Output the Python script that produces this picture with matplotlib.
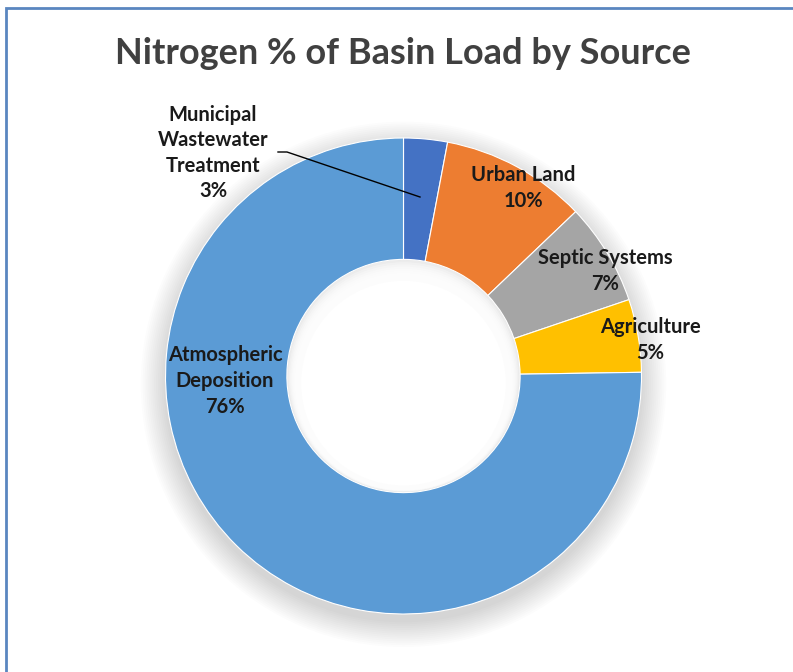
import numpy as np
import matplotlib
matplotlib.use("Agg")
import matplotlib.pyplot as plt
from matplotlib.patches import Circle, Rectangle

sources = ["Municipal\nWastewater\nTreatment", "Urban Land", "Septic Systems",
           "Agriculture", "Atmospheric\nDeposition"]
shares = [3, 10, 7, 5, 76]
colors = ["#4472C4", "#ED7D31", "#A5A5A5", "#FFC000", "#5B9BD5"]

W, H = 793, 672
fig = plt.figure(figsize=(W / 100, H / 100), dpi=100)
fig.patch.set_facecolor("white")

# pie centre and radius in pixels (from top-left)
cx, cy, r = 403.5, 376, 238
ax = fig.add_axes([(cx - r) / W, (H - cy - r) / H, 2 * r / W, 2 * r / H])

def px(x, y):
    return (x - cx) / r, (cy - y) / r

hole = 0.49

# soft shadow
for i in range(14):
    ax.add_patch(Circle((0, -0.035), 1.0 + 0.008 * i, color="black",
                        alpha=0.011, lw=0, zorder=0, clip_on=False))
# hole with a faint inner shading at its rim
ax.add_patch(Circle((0, 0), hole, color="#e4e4e4", lw=0, zorder=0.5))
for i in range(10):
    ax.add_patch(Circle((0, -0.004 * i), hole - 0.005 * i - 0.003, color="white",
                        alpha=0.3, lw=0, zorder=0.6))
ax.add_patch(Circle((0, -0.03), hole - 0.06, color="white", lw=0, zorder=0.7))

wedges, _ = ax.pie(shares, colors=colors, startangle=90, counterclock=False,
                   radius=1, wedgeprops=dict(width=1 - hole, edgecolor="white", linewidth=0.8))
ax.set_xlim(-1, 1)
ax.set_ylim(-1, 1)
ax.axis("off")

font = "Lato"
label_pos = [(213, 153), (523, 188), (605, 271), (650, 340), (225, 381)]
for name, val, (x, y) in zip(sources, shares, label_pos):
    tx, ty = px(x, y)
    ax.text(tx, ty, f"{name}\n{val}%", ha="center", va="center", fontsize=14.5,
            fontweight="bold", family=font, color="#1a1a1a", linespacing=1.35,
            clip_on=False, zorder=5)

# leader line for municipal
lx = [px(278, 152)[0], px(287, 152)[0], px(420, 197)[0]]
ly = [px(278, 152)[1], px(287, 152)[1], px(420, 197)[1]]
ax.plot(lx, ly, color="black", lw=1, clip_on=False, zorder=5)

fig.text(403 / W, 1 - 53 / H, "Nitrogen % of Basin Load by Source", ha="center",
         va="center", fontsize=26, fontweight="bold", family=font, color="#404040")

# chart frame (cropped on right and bottom)
fig.add_artist(Rectangle((5.5 / W, -0.1), 1.2, 1 - 8 / H + 0.1, transform=fig.transFigure,
                         fill=False, edgecolor="#5A86C0", lw=2))

fig.savefig("out.png", dpi=100)
